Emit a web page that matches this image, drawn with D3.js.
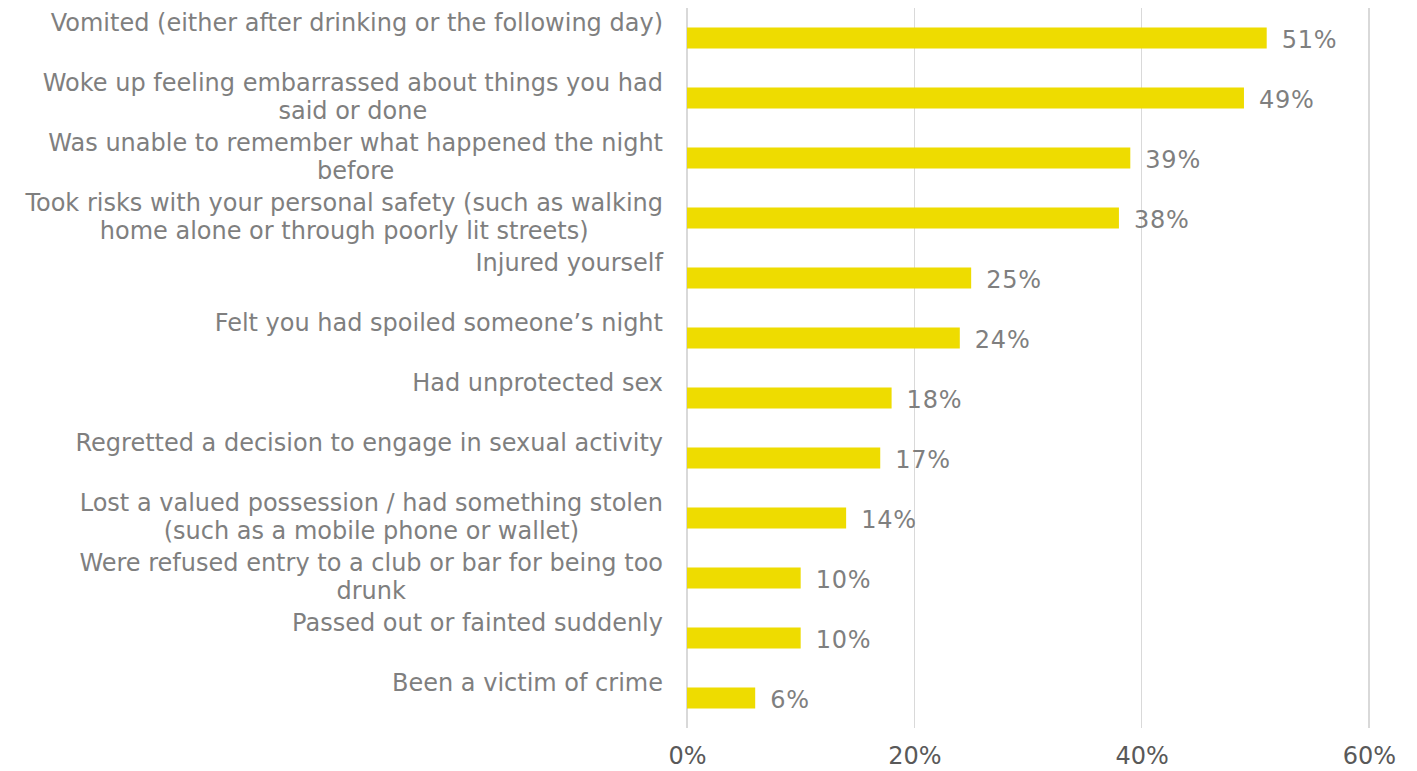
<!DOCTYPE html>
<html>
<head>
<meta charset="utf-8">
<script src="https://cdn.jsdelivr.net/npm/d3@7"></script>
<style>
  html, body { margin: 0; padding: 0; background: #ffffff; }
  svg { display: block; }
</style>
</head>
<body>
<svg id="chart" width="1417" height="771"></svg>
<script>
// Categories, with "\n" marking where a label wraps onto a second line
const categories = [
  "Vomited (either after drinking or the following day)",
  "Woke up feeling embarrassed about things you had\nsaid or done",
  "Was unable to remember what happened the night\nbefore",
  "Took risks with your personal safety (such as walking\nhome alone or through poorly lit streets)",
  "Injured yourself",
  "Felt you had spoiled someone\u2019s night",
  "Had unprotected sex",
  "Regretted a decision to engage in sexual activity",
  "Lost a valued possession / had something stolen\n(such as a mobile phone or wallet)",
  "Were refused entry to a club or bar for being too\ndrunk",
  "Passed out or fainted suddenly",
  "Been a victim of crime"
];
const values = [51, 49, 39, 38, 25, 24, 18, 17, 14, 10, 10, 6];
const tickValues = [0, 20, 40, 60];

const svg = d3.select("#chart");
const font = "'DejaVu Sans', Verdana, sans-serif";

const margin = { left: 687, right: 48, top: 8, bottom: 43 };
const W = 1417, H = 771;

const x = d3.scaleLinear().domain([0, 60]).range([margin.left, W - margin.right]);
const y = d3.scaleBand().domain(categories).range([margin.top, H - margin.bottom]).paddingInner(0.65).paddingOuter(0.325);

// vertical gridlines
svg.append("g")
  .selectAll("line")
  .data(tickValues)
  .join("line")
  .attr("x1", d => x(d)).attr("x2", d => x(d))
  .attr("y1", margin.top).attr("y2", H - margin.bottom)
  .attr("stroke", "#d9d9d9").attr("stroke-width", 1.3)
  .attr("shape-rendering", "crispEdges");

// bottom axis tick labels
const xAxis = d3.axisBottom(x).tickValues(tickValues).tickFormat(d => d + "%").tickSize(0).tickPadding(0);
const gx = svg.append("g").attr("transform", `translate(0,${H - 15})`).call(xAxis);
gx.select(".domain").remove();
gx.selectAll("text")
  .attr("fill", "#595959")
  .attr("font-family", font)
  .attr("font-size", 24)
  .attr("dy", "0.35em");

// bars
svg.append("g")
  .selectAll("rect")
  .data(values)
  .join("rect")
  .attr("x", x(0))
  .attr("y", (d, i) => y(categories[i]))
  .attr("width", d => x(d) - x(0))
  .attr("height", y.bandwidth())
  .attr("fill", "#eedc00");

// value labels
svg.append("g")
  .selectAll("text")
  .data(values)
  .join("text")
  .attr("x", d => x(d) + 15)
  .attr("y", (d, i) => y(categories[i]) + y.bandwidth() / 2 + 2)
  .attr("dy", "0.35em")
  .attr("fill", "#7f7f7f")
  .attr("font-family", font)
  .attr("font-size", 24)
  .attr("letter-spacing", 0.8)
  .text(d => d + "%");

// category labels, right aligned, block anchored so two-line labels centre on the bar
const lineH = 28;
const labels = svg.append("g")
  .selectAll("text")
  .data(categories)
  .join("text")
  .attr("text-anchor", "middle")
  .attr("fill", "#7f7f7f")
  .attr("font-family", font)
  .attr("font-size", 24);

labels.each(function(d) {
  const t = d3.select(this);
  const lines = d.split("\n");
  const cy = y(d) + y.bandwidth() / 2;
  lines.forEach((ln, k) => {
    t.append("tspan")
      .attr("x", 0)
      .attr("y", cy - lineH / 2 - 1 + k * lineH)
      .attr("dy", "0.35em")
      .text(ln);
  });
});

// centre each line under the widest line, then right-align the block at the label edge
labels.each(function() {
  const t = d3.select(this);
  const spans = t.selectAll("tspan").nodes();
  const widths = spans.map(s => s.getComputedTextLength());
  const maxW = d3.max(widths);
  const right = 663;
  spans.forEach(s => d3.select(s).attr("x", right - maxW / 2));
});
</script>
</body>
</html>
